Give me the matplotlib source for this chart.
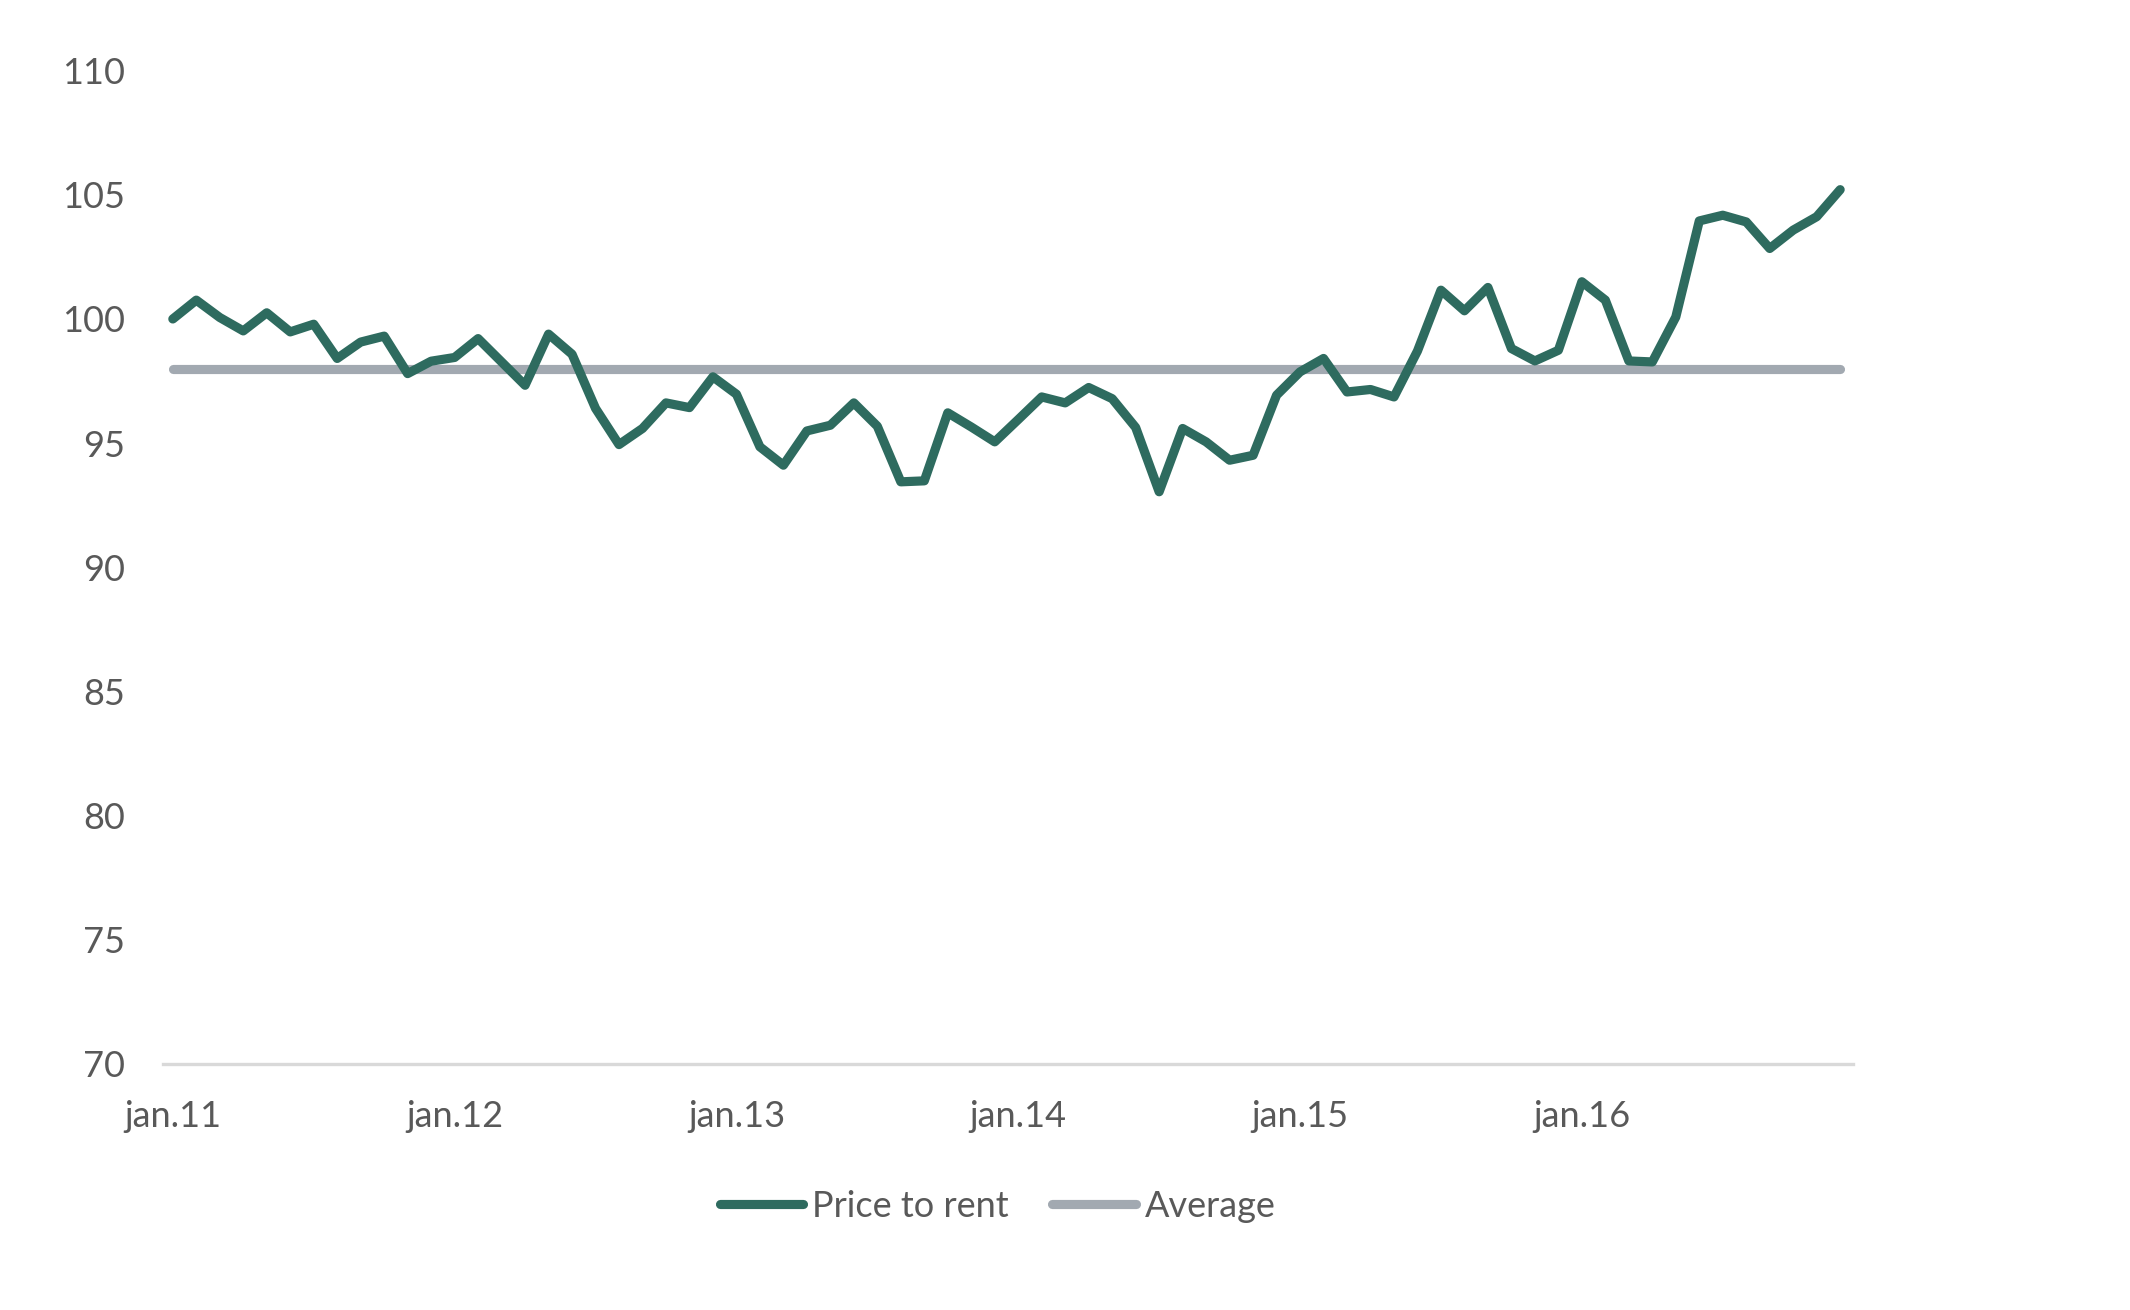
# price to rent index vs its average, monthly jan.11 - dec.16
import matplotlib
matplotlib.use("Agg")
import matplotlib.pyplot as plt

plt.rcParams['font.family'] = ['Lato', 'DejaVu Sans']

price_to_rent = [
    100.0, 100.76, 100.06, 99.52, 100.25, 99.48, 99.79, 98.41, 99.07, 99.31, 97.80, 98.30,
    98.45, 99.21, 98.27, 97.33, 99.39, 98.58, 96.40, 94.94, 95.59, 96.62, 96.43, 97.67,
    96.97, 94.85, 94.11, 95.49, 95.72, 96.62, 95.68, 93.44, 93.48, 96.22, 95.65, 95.05,
    95.95, 96.86, 96.62, 97.24, 96.79, 95.63, 93.04, 95.59, 95.05, 94.31, 94.51, 96.93,
    97.87, 98.41, 97.06, 97.16, 96.86, 98.71, 101.16, 100.33, 101.27, 98.81, 98.31, 98.74,
    101.50, 100.76, 98.31, 98.27, 100.08, 103.95, 104.18, 103.91, 102.84, 103.58, 104.12, 105.21,
]
average = 98.0
tick_labels = ["jan.11", "jan.12", "jan.13", "jan.14", "jan.15", "jan.16"]
y_ticks = [70, 75, 80, 85, 90, 95, 100, 105, 110]

months = list(range(len(price_to_rent)))
avg_line = [average] * len(months)

green = "#2E6B5F"
grey = "#A2A9B1"
text_col = "#595959"

fig = plt.figure(figsize=(21.3, 13.1), dpi=100)
ax = fig.add_axes([0.0765, 0.188, 0.7935, 0.758])

ax.plot(months, price_to_rent, color=green, lw=6.6, solid_joinstyle='round',
        solid_capstyle='round', label="Price to rent", zorder=3)
ax.plot(months, avg_line, color=grey, lw=6.6, solid_capstyle='round',
        label="Average", zorder=2)

ax.set_xlim(-0.42, 71.55)
ax.set_ylim(70, 110)
ax.set_yticks(y_ticks)
ax.set_xticks(range(0, 72, 12))
ax.set_xticklabels(tick_labels)
ax.tick_params(axis='both', length=0, labelsize=26, colors=text_col)
ax.tick_params(axis='y', pad=27)
ax.tick_params(axis='x', pad=26)

for s in ['top', 'right', 'left']:
    ax.spines[s].set_visible(False)
ax.spines['bottom'].set_color("#D9D9D9")
ax.spines['bottom'].set_linewidth(2.4)
ax.spines['bottom'].set_zorder(1)

leg = fig.legend(loc='center', bbox_to_anchor=(0.4685, 0.079), ncol=2, frameon=False,
                 fontsize=26, handlelength=2.3, handletextpad=0.25, columnspacing=1.2)
for t in leg.get_texts():
    t.set_color(text_col)

fig.savefig("out.png", dpi=100, facecolor="white")
